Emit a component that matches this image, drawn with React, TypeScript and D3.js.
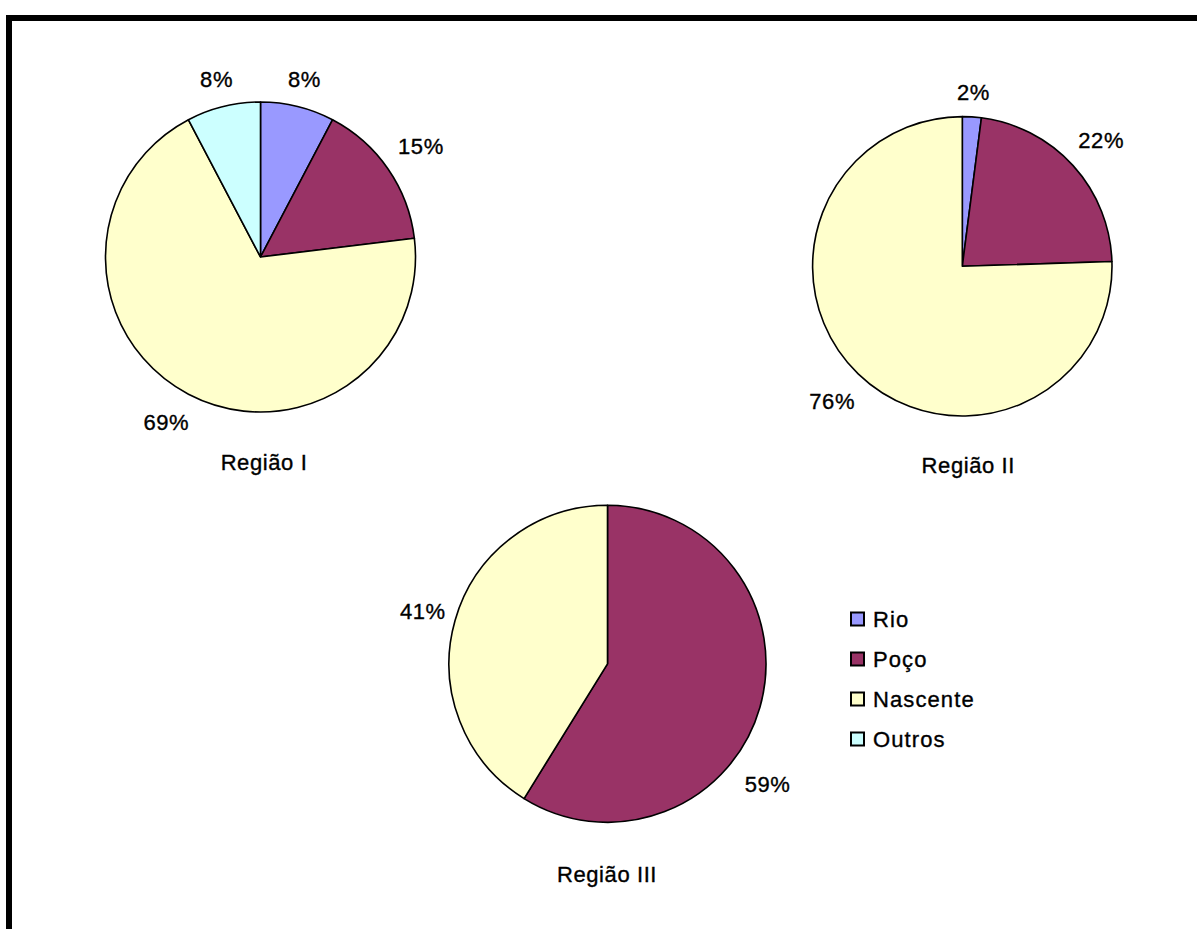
import React, { useMemo } from "react";
import * as d3 from "d3";

// ---- data ----
const categories = ["Rio", "Poço", "Nascente", "Outros"];
const sliceColors = ["#9999FF", "#993366", "#FFFFCC", "#CCFFFF"];
const regionNames = ["Região I", "Região II", "Região III"];
const regiaoI = [1, 2, 9, 1];
const regiaoII = [1, 11, 37, 0];
const regiaoIII = [0, 10, 7, 0];
const regionValues = [regiaoI, regiaoII, regiaoIII];

// ---- layout (positions / styles only) ----
const W = 1197;
const H = 929;
const FONT = '"Liberation Sans", Arial, sans-serif';
const LABEL_SIZE = 22;
const LABEL_SPACING = 0.6;
type Ov = Record<string, { angle?: number; gap?: number }>;
const pieLayout = [
  { cx: 260.5, cy: 257, r: 155, titleX: 264, titleY: 469.5, gap: 16, overrides: { "Nascente": { angle: 2 } } as Ov },
  { cx: 962.3, cy: 266.3, r: 149.7, titleX: 968.3, titleY: 473.3, gap: 15, overrides: {} as Ov },
  { cx: 607.5, cy: 663.8, r: 158.5, titleX: 607, titleY: 881.7, gap: 9, overrides: { "Poço": { angle: 21, gap: 18 } } as Ov },
];

let measureCtx: CanvasRenderingContext2D | null = null;
function textWidth(t: string, size: number, spacing: number) {
  if (!measureCtx) measureCtx = document.createElement("canvas").getContext("2d");
  if (!measureCtx) return t.length * size * 0.55;
  measureCtx.font = `${size}px "Liberation Sans", Arial, sans-serif`;
  return measureCtx.measureText(t).width + spacing * t.length;
}

const pct = d3.format(".0%");

function Pie({ values, layout, title }: { values: number[]; layout: typeof pieLayout[0]; title: string }) {
  const total = d3.sum(values);
  const arcs = d3.pie<number>().sort(null).value((d) => d)(values);
  const arcGen = d3.arc<d3.PieArcDatum<number>>().innerRadius(0).outerRadius(layout.r);
  const color = d3.scaleOrdinal<string, string>().domain(categories).range(sliceColors);
  const capH = LABEL_SIZE * 0.716;
  return (
    <g>
      <g transform={`translate(${layout.cx},${layout.cy})`}>
        {arcs
          .filter((a) => a.value > 0)
          .map((a) => (
            <path
              key={categories[a.index]}
              d={arcGen(a) || ""}
              fill={color(categories[a.index])}
              stroke="#000"
              strokeWidth={1.6}
              strokeLinejoin="round"
            />
          ))}
      </g>
      {arcs
        .filter((a) => a.value > 0)
        .map((a) => {
          const cat = categories[a.index];
          const label = pct(a.value / total);
          const ov = layout.overrides[cat] || {};
          const theta = (a.startAngle + a.endAngle) / 2 + ((ov.angle || 0) * Math.PI) / 180;
          const gap = ov.gap !== undefined ? ov.gap : layout.gap;
          const w = textWidth(label, LABEL_SIZE, LABEL_SPACING);
          const s = Math.sin(theta);
          const c = Math.cos(theta);
          const dist = layout.r + gap + Math.abs(s) * (w / 2) + Math.abs(c) * (capH / 2 + 1);
          const x = layout.cx + dist * s;
          const y = layout.cy - dist * c;
          return (
            <text
              key={"l" + cat}
              x={x}
              y={y + capH / 2}
              textAnchor="middle"
              fontFamily={FONT}
              fontSize={LABEL_SIZE}
              letterSpacing={LABEL_SPACING}
              fill="#000"
              stroke="#000"
              strokeWidth={0.35}
            >
              {label}
            </text>
          );
        })}
      <text
        x={layout.titleX}
        y={layout.titleY}
        textAnchor="middle"
        fontFamily={FONT}
        fontSize={LABEL_SIZE}
        letterSpacing={LABEL_SPACING}
        fill="#000"
        stroke="#000"
        strokeWidth={0.35}
      >
        {title}
      </text>
    </g>
  );
}

export default function App() {
  const legendColor = useMemo(
    () => d3.scaleOrdinal<string, string>().domain(categories).range(sliceColors),
    []
  );
  const legendY = d3.scalePoint<string>().domain(categories).range([619, 739]);
  return (
    <svg
      width={W}
      height={H}
      style={{ position: "absolute", left: 0, top: 0, display: "block", background: "#fff" }}
    >
      <rect x={0} y={0} width={W} height={H} fill="#fff" />
      {/* frame */}
      <rect x={6} y={15} width={W - 6} height={6} fill="#000" />
      <rect x={6} y={15} width={6} height={H - 15} fill="#000" />
      {regionValues.map((vals, i) => (
        <Pie key={regionNames[i]} values={vals} layout={pieLayout[i]} title={regionNames[i]} />
      ))}
      {/* legend */}
      <g>
        {categories.map((c) => {
          const cy = legendY(c) || 0;
          return (
            <g key={"lg" + c}>
              <rect x={851} y={cy - 6.5} width={13} height={13} fill={legendColor(c)} stroke="#000" strokeWidth={2} />
              <text
                x={873}
                y={cy + 7.5}
                fontFamily={FONT}
                fontSize={22}
                letterSpacing={1.1}
                fill="#000"
                stroke="#000"
                strokeWidth={0.35}
              >
                {c}
              </text>
            </g>
          );
        })}
      </g>
    </svg>
  );
}
